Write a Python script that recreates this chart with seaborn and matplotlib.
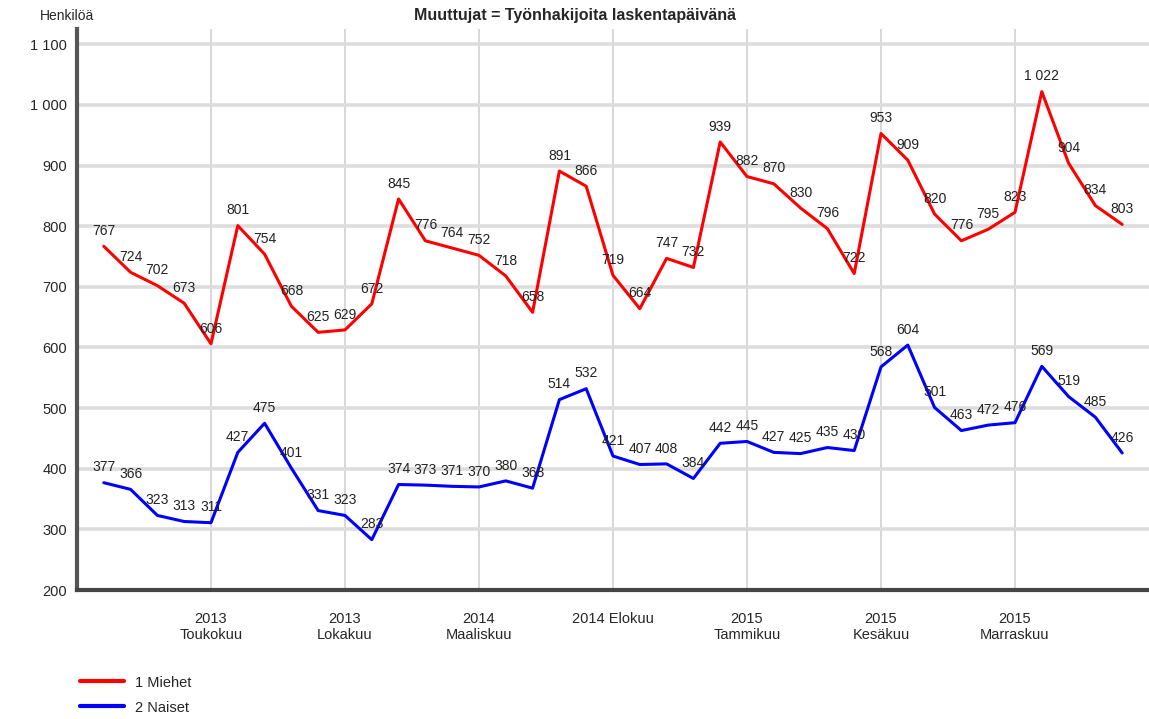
import matplotlib
matplotlib.use("Agg")
import matplotlib.pyplot as plt
import seaborn as sns
import pandas as pd

# monthly values, Jan 2013 - Mar 2016
months = list(range(39))
miehet = [767, 724, 702, 673, 606, 801, 754, 668, 625, 629, 672, 845, 776, 764,
          752, 718, 658, 891, 866, 719, 664, 747, 732, 939, 882, 870, 830, 796,
          722, 953, 909, 820, 776, 795, 823, 1022, 904, 834, 803]
naiset = [377, 366, 323, 313, 311, 427, 475, 401, 331, 323, 283, 374, 373, 371,
          370, 380, 368, 514, 532, 421, 407, 408, 384, 442, 445, 427, 425, 435,
          430, 568, 604, 501, 463, 472, 476, 569, 519, 485, 426]
tick_pos = [4, 9, 14, 19, 24, 29, 34]
tick_labels = ["2013\nToukokuu", "2013\nLokakuu", "2014\nMaaliskuu", "2014 Elokuu",
               "2015\nTammikuu", "2015\nKesäkuu", "2015\nMarraskuu"]
series = ["1 Miehet", "2 Naiset"]

df = pd.DataFrame({
    "kk": months * 2,
    "arvo": miehet + naiset,
    "sarja": [series[0]] * len(months) + [series[1]] * len(months),
})

sns.set_style("white")
plt.rcParams["font.family"] = ["Liberation Sans", "DejaVu Sans"]

fig = plt.figure(figsize=(11.49, 7.19), dpi=100)
ax = fig.add_axes([0.067, 0.1794, 0.933, 0.780])

sns.lineplot(data=df, x="kk", y="arvo", hue="sarja",
             palette={series[0]: "#ff0000", series[1]: "#0000ff"},
             linewidth=2.2, ax=ax, legend=False)

# data labels
for vals in (miehet, naiset):
    for x, v in zip(months, vals):
        txt = f"{v:,}".replace(",", " ")
        ax.annotate(txt, (x, v), xytext=(0, 6), textcoords="offset points",
                    ha="center", va="bottom", fontsize=10, color="#222222")

ax.set_xlim(-1, 39)
ax.set_ylim(200, 1125)
ax.set_yticks(range(200, 1101, 100))
ax.set_yticklabels([f"{v:,}".replace(",", " ") for v in range(200, 1101, 100)],
                   fontsize=10.5)
ax.set_xticks(tick_pos)
ax.set_xticklabels(tick_labels, fontsize=10.5)
ax.grid(True, axis="y", color="#dddddd", linewidth=2.6)
ax.grid(True, axis="x", color="#d4d4d4", linewidth=1.3)
ax.set_axisbelow(True)
ax.set_xlabel("")
ax.set_ylabel("")

for s in ["top", "right"]:
    ax.spines[s].set_visible(False)
ax.spines["left"].set_color("#555555")
ax.spines["left"].set_linewidth(3)
ax.spines["bottom"].set_color("#444444")
ax.spines["bottom"].set_linewidth(3)
ax.tick_params(axis="x", length=8, width=1.5, color="#333333", pad=8)
ax.tick_params(axis="y", length=5, width=1.5, color="#555555", pad=2)

fig.text(0.5, 0.978, "Muuttujat = Työnhakijoita laskentapäivänä",
         ha="center", va="center", fontsize=11.5, fontweight="bold")
fig.text(0.035, 0.978, "Henkilöä", ha="left", va="center", fontsize=10)

# legend
handles = [plt.Line2D([], [], color="#ff0000", lw=3),
           plt.Line2D([], [], color="#0000ff", lw=3)]
fig.legend(handles, series, loc="lower left", bbox_to_anchor=(0.058, -0.012),
           frameon=False, fontsize=10.5, handlelength=3, labelspacing=0.75)

fig.savefig("out.png", dpi=100)
